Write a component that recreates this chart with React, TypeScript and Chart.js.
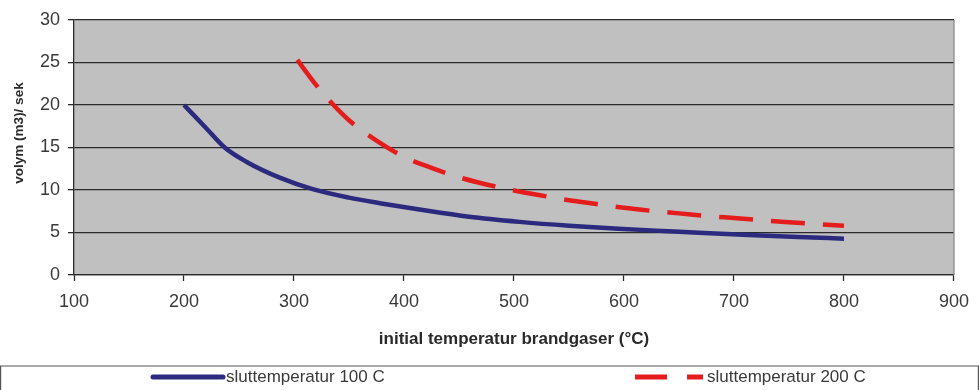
import React, { useEffect, useRef } from "react";
import { Chart, registerables } from "chart.js";

Chart.register(...registerables);

// ---- data ----
const xMin = 100;
const xMax = 900;
const xStep = 100;
const yMin = 0;
const yMax = 30;
const yStep = 5;

const temp100 = [200, 220, 237, 257, 287, 317, 350, 378, 414, 459, 505, 550, 595, 640, 668, 713, 758, 800];
const vol100 = [20, 17.3, 15.0, 13.3, 11.45, 10.1, 9.1, 8.45, 7.7, 6.85, 6.25, 5.8, 5.45, 5.15, 4.97, 4.72, 4.48, 4.27];

const temp200 = [303, 318, 333, 350, 375, 400, 425, 450, 475, 500, 525, 550, 575, 600, 625, 650, 675, 700, 725, 750, 775, 800];
const vol200 = [25.3, 22.7, 20.4, 18.2, 15.8, 13.9, 12.6, 11.5, 10.65, 9.95, 9.35, 8.8, 8.35, 7.9, 7.55, 7.25, 6.95, 6.7, 6.45, 6.2, 6.0, 5.8];

const seriesLabels = ["sluttemperatur 100 C", "sluttemperatur 200 C"];
const xTitle = "initial temperatur brandgaser (°C)";
const yTitle = "volym (m3)/ sek";

const FONT = '"Liberation Sans", Arial, Helvetica, sans-serif';
const BLUE = "#2b2a7e";
const RED = "#e41c1c";
const DARK = "#2a2a2a";
const TEXT = "#3a3a3a";

const toPoints = (xs: number[], ys: number[]) => xs.map((x, i) => ({ x, y: ys[i] }));

const backgroundPlugin = {
  id: "plotBackground",
  beforeDraw(chart: any) {
    const { ctx, chartArea } = chart;
    ctx.save();
    ctx.fillStyle = "#c0c0c0";
    ctx.fillRect(chartArea.left, chartArea.top, chartArea.right - chartArea.left, chartArea.bottom - chartArea.top);
    ctx.restore();
  },
  afterDraw(chart: any) {
    const { ctx, chartArea } = chart;
    ctx.save();
    ctx.strokeStyle = "#8c8c8c";
    ctx.lineWidth = 1.3;
    ctx.beginPath();
    ctx.moveTo(chartArea.right, chartArea.top);
    ctx.lineTo(chartArea.right, chartArea.bottom);
    ctx.stroke();
    ctx.restore();
  },
};

const yTitlePlugin = {
  id: "yTitleDraw",
  afterDraw(chart: any) {
    const { ctx } = chart;
    ctx.save();
    ctx.translate(19, 133);
    ctx.rotate(-Math.PI / 2);
    ctx.font = `bold 13.5px ${FONT}`;
    ctx.fillStyle = DARK;
    ctx.textAlign = "center";
    ctx.textBaseline = "middle";
    ctx.fillText(yTitle, 0, 0);
    ctx.restore();
  },
};

const legendPlugin = {
  id: "boxLegend",
  afterDraw(chart: any) {
    const { ctx, width } = chart;
    const ds = chart.data.datasets;
    ctx.save();
    ctx.strokeStyle = "#555555";
    ctx.lineWidth = 1.2;
    ctx.beginPath();
    ctx.moveTo(0.6, 392);
    ctx.lineTo(0.6, 366);
    ctx.lineTo(width - 0.6, 366);
    ctx.lineTo(width - 0.6, 392);
    ctx.stroke();

    const y = 377;
    const items = [
      { x0: 153, x1: 223, tx: 226 },
      { x0: 635, x1: 703, tx: 707 },
    ];
    items.forEach((it, i) => {
      const d = ds[i];
      ctx.strokeStyle = d.borderColor;
      ctx.lineWidth = 5;
      ctx.setLineDash(i === 1 ? [32, 20] : []);
      ctx.lineCap = i === 1 ? "butt" : "round";
      ctx.beginPath();
      ctx.moveTo(it.x0, y);
      ctx.lineTo(it.x1, y);
      ctx.stroke();
      ctx.setLineDash([]);
      ctx.font = `17px ${FONT}`;
      ctx.fillStyle = TEXT;
      ctx.textAlign = "left";
      ctx.textBaseline = "middle";
      ctx.fillText(d.label, it.tx, y);
    });
    ctx.restore();
  },
};

export default function App() {
  const canvasRef = useRef<HTMLCanvasElement | null>(null);

  useEffect(() => {
    document.body.style.margin = "0";
    const canvas = canvasRef.current;
    if (!canvas) return;
    const chart = new Chart(canvas, {
      type: "line",
      data: {
        datasets: [
          {
            label: seriesLabels[0],
            data: toPoints(temp100, vol100),
            borderColor: BLUE,
            borderWidth: 4.5,
            pointRadius: 0,
            cubicInterpolationMode: "monotone",
            fill: false,
          },
          {
            label: seriesLabels[1],
            data: toPoints(temp200, vol200),
            borderColor: RED,
            borderWidth: 4.5,
            borderDash: [34, 18],
            pointRadius: 0,
            cubicInterpolationMode: "monotone",
            fill: false,
          },
        ],
      },
      options: {
        animation: false,
        responsive: true,
        maintainAspectRatio: false,
        layout: { padding: { left: 0, right: 23, top: 20, bottom: 40 } },
        plugins: {
          legend: { display: false },
          tooltip: { enabled: false },
        },
        scales: {
          x: {
            type: "linear",
            min: xMin,
            max: xMax,
            ticks: {
              stepSize: xStep,
              padding: 10,
              color: TEXT,
              font: { family: FONT, size: 18 },
              maxRotation: 0,
            },
            grid: {
              drawOnChartArea: false,
              drawTicks: true,
              tickLength: 6,
              tickColor: DARK,
              tickWidth: 1.3,
            },
            border: { display: true, color: DARK, width: 1.3 },
            title: {
              display: true,
              text: xTitle,
              color: DARK,
              font: { family: FONT, size: 17, weight: "bold" },
              padding: { top: 0, bottom: 0 },
            },
            afterFit(scale: any) {
              scale.height = 75;
            },
          },
          y: {
            type: "linear",
            min: yMin,
            max: yMax,
            ticks: {
              stepSize: yStep,
              padding: 8,
              color: TEXT,
              font: { family: FONT, size: 18 },
            },
            grid: {
              color: DARK,
              lineWidth: 1.3,
              drawTicks: true,
              tickLength: 6,
              tickColor: DARK,
            },
            border: { display: true, color: DARK, width: 1.3 },
            afterFit(scale: any) {
              scale.width = 74;
            },
          },
        },
      },
      plugins: [backgroundPlugin, yTitlePlugin, legendPlugin],
    } as any);
    return () => chart.destroy();
  }, []);

  return (
    <div style={{ position: "absolute", left: 0, top: 0, width: 979, height: 390 }}>
      <canvas ref={canvasRef} />
    </div>
  );
}
